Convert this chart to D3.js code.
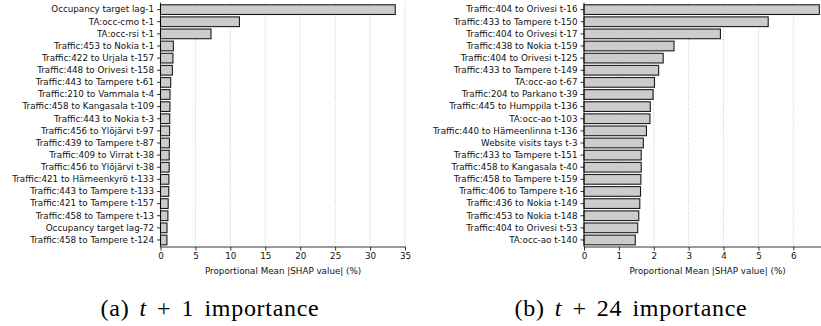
<!DOCTYPE html>
<html>
<head>
<meta charset="utf-8">
<script src="https://cdn.jsdelivr.net/npm/d3@7"></script>
<style>
  html, body { margin: 0; padding: 0; background: #fff; }
  svg { display: block; }
</style>
</head>
<body>
<svg id="chart" width="821" height="326"></svg>
<script>
// ---- data ----
const featuresA = [
  "Occupancy target lag-1", "TA:occ-cmo t-1", "TA:occ-rsi t-1",
  "Traffic:453 to Nokia t-1", "Traffic:422 to Urjala t-157", "Traffic:448 to Orivesi t-158",
  "Traffic:443 to Tampere t-61", "Traffic:210 to Vammala t-4", "Traffic:458 to Kangasala t-109",
  "Traffic:443 to Nokia t-3", "Traffic:456 to Ylöjärvi t-97", "Traffic:439 to Tampere t-87",
  "Traffic:409 to Virrat t-38", "Traffic:456 to Ylöjärvi t-38", "Traffic:421 to Hämeenkyrö t-133",
  "Traffic:443 to Tampere t-133", "Traffic:421 to Tampere t-157", "Traffic:458 to Tampere t-13",
  "Occupancy target lag-72", "Traffic:458 to Tampere t-124"
];
const valuesA = [33.6, 11.3, 7.23, 1.84, 1.78, 1.70, 1.46, 1.36, 1.35, 1.32,
                 1.30, 1.28, 1.25, 1.24, 1.20, 1.18, 1.10, 1.06, 0.93, 0.92];
const ticksA = [0, 5, 10, 15, 20, 25, 30, 35];

const featuresB = [
  "Traffic:404 to Orivesi t-16", "Traffic:433 to Tampere t-150", "Traffic:404 to Orivesi t-17",
  "Traffic:438 to Nokia t-159", "Traffic:404 to Orivesi t-125", "Traffic:433 to Tampere t-149",
  "TA:occ-ao t-67", "Traffic:204 to Parkano t-39", "Traffic:445 to Humppila t-136",
  "TA:occ-ao t-103", "Traffic:440 to Hämeenlinna t-136", "Website visits tays t-3",
  "Traffic:433 to Tampere t-151", "Traffic:458 to Kangasala t-40", "Traffic:458 to Tampere t-159",
  "Traffic:406 to Tampere t-16", "Traffic:436 to Nokia t-149", "Traffic:453 to Nokia t-148",
  "Traffic:404 to Orivesi t-53", "TA:occ-ao t-140"
];
const valuesB = [6.745, 5.28, 3.91, 2.58, 2.27, 2.14, 2.02, 1.98, 1.90, 1.89,
                 1.79, 1.70, 1.64, 1.64, 1.63, 1.62, 1.60, 1.57, 1.54, 1.47];
const ticksB = [0, 1, 2, 3, 4, 5, 6];

const xLabel = "Proportional Mean |SHAP value| (%)";
const captions = [
  {pre: "(a) ", mid: "t", post: " + 1 importance"},
  {pre: "(b) ", mid: "t", post: " + 24 importance"}
];

// ---- drawing ----
const svg = d3.select("#chart");
svg.append("rect").attr("width", 821).attr("height", 326).attr("fill", "#fff");

const plotTop = 2.6, plotBottom = 247;
const font = "'DejaVu Sans', sans-serif";
const fs = 8.75;

function panel(features, values, ticks, x0, x1, xmax) {
  const g = svg.append("g");
  const x = d3.scaleLinear().domain([0, xmax]).range([x0, x1]);
  const y = d3.scaleBand().domain(features).range([plotTop, plotBottom])
    .paddingInner(0.2).paddingOuter(0.18);

  // grid
  g.selectAll("line.grid").data(ticks.filter(t => t > 0)).join("line")
    .attr("class", "grid")
    .attr("x1", d => x(d)).attr("x2", d => x(d))
    .attr("y1", plotTop).attr("y2", plotBottom)
    .attr("stroke", "#b8b8b8").attr("stroke-width", 0.8)
    .attr("stroke-dasharray", "1,1.6");

  // bars
  g.selectAll("rect.bar").data(features).join("rect")
    .attr("class", "bar")
    .attr("x", x(0))
    .attr("y", d => y(d))
    .attr("width", (d, i) => x(values[i]) - x(0))
    .attr("height", y.bandwidth())
    .attr("fill", "#cccccc")
    .attr("stroke", "#1a1a1a")
    .attr("stroke-width", 1.1);

  // y axis
  const ya = d3.axisLeft(y).tickSize(3.5).tickPadding(3);
  const yg = g.append("g").attr("transform", `translate(${x0},0)`).call(ya);
  yg.select(".domain").attr("d", `M0,${plotTop}V${plotBottom}`).attr("stroke", "#000").attr("stroke-width", 0.8);
  yg.selectAll(".tick line").attr("stroke", "#000").attr("stroke-width", 0.8);
  yg.selectAll("text").attr("font-family", font).attr("font-size", fs).attr("fill", "#111");

  // x axis
  const xa = d3.axisBottom(x).tickValues(ticks).tickFormat(d3.format("d")).tickSize(3.5).tickPadding(2.5);
  const xg = g.append("g").attr("transform", `translate(0,${plotBottom})`).call(xa);
  xg.select(".domain").attr("d", `M${x0},0H${x1}`).attr("stroke", "#000").attr("stroke-width", 0.8);
  xg.selectAll(".tick line").attr("stroke", "#000").attr("stroke-width", 0.8);
  xg.selectAll("text").attr("font-family", font).attr("font-size", fs).attr("fill", "#111");

  g.append("text")
    .attr("x", (x0 + x1) / 2).attr("y", 273.5)
    .attr("text-anchor", "middle")
    .attr("font-family", font).attr("font-size", fs).attr("fill", "#111")
    .text(xLabel);
}

panel(featuresA, valuesA, ticksA, 160.5, 405.7, 35.1);
panel(featuresB, valuesB, ticksB, 584, 831, 7.08);

// captions
const capX = [210, 631];
captions.forEach((c, i) => {
  const t = svg.append("text")
    .attr("x", capX[i]).attr("y", 315.5)
    .attr("text-anchor", "middle")
    .attr("font-family", "'Liberation Serif', 'DejaVu Serif', serif")
    .attr("font-size", 24).attr("letter-spacing", 0.7).attr("word-spacing", 3.5).attr("fill", "#000");
  t.append("tspan").text(c.pre);
  t.append("tspan").attr("font-style", "italic").text(c.mid);
  t.append("tspan").text(c.post);
});
</script>
</body>
</html>
